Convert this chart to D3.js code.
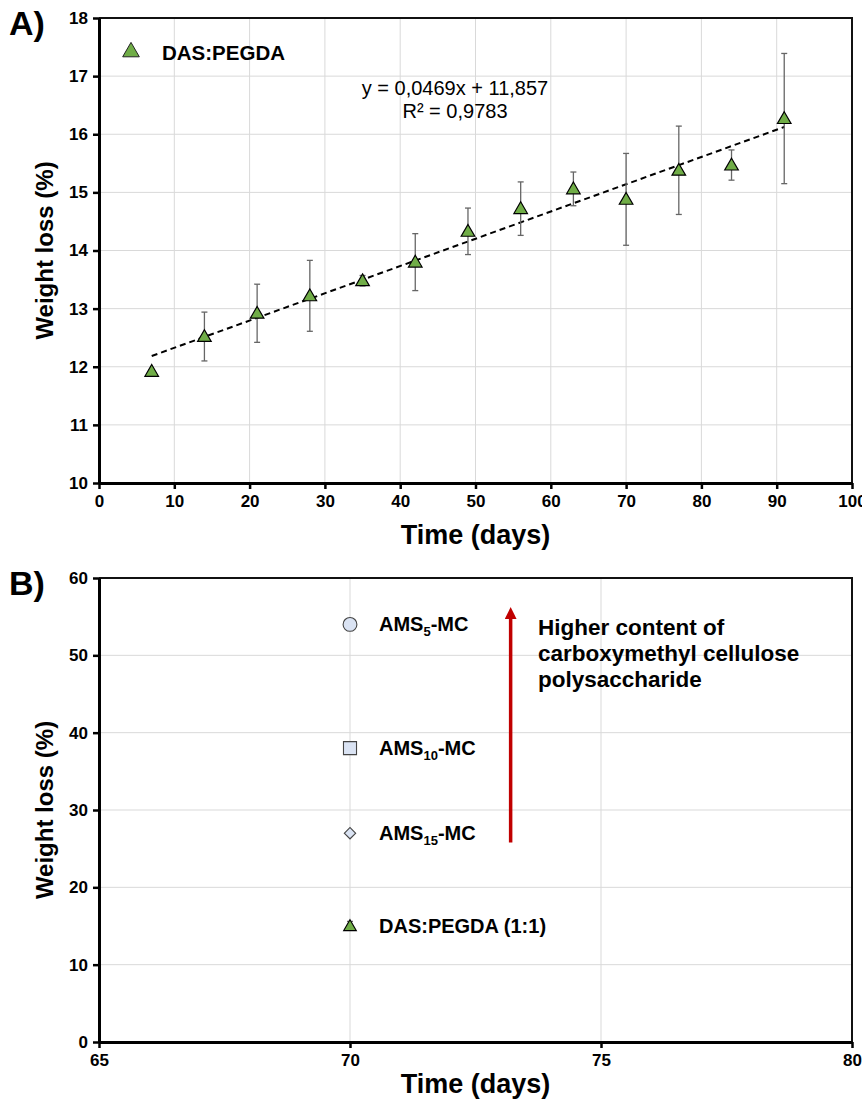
<!DOCTYPE html>
<html>
<head>
<meta charset="utf-8">
<script src="https://cdn.jsdelivr.net/npm/d3@7"></script>
<style>
    body { margin: 0; background: #fff; }
    svg text { font-family: Arial, "Liberation Sans", sans-serif; }
</style>
</head>
<body>
<div id="chartdiv"></div>
<script>
// data, panel A
let days = [7, 14, 21, 28, 35, 42, 49, 56, 63, 70, 77, 84, 91],
    weight_loss = [11.92, 12.52, 12.92, 13.22, 13.48, 13.8, 14.33, 14.72, 15.06, 14.88, 15.38, 15.47, 16.27],
    weight_err = [0.03, 0.42, 0.5, 0.61, 0.09, 0.49, 0.4, 0.46, 0.29, 0.79, 0.76, 0.26, 1.12],
    fit_slope = 0.0469,
    fit_icpt = 11.857,
    a_xticks = [0, 10, 20, 30, 40, 50, 60, 70, 80, 90, 100],
    a_yticks = [10, 11, 12, 13, 14, 15, 16, 17, 18];

// data, panel B
let b_names = ["AMS5-MC", "AMS10-MC", "AMS15-MC", "DAS:PEGDA (1:1)"],
    b_subs = ["5", "10", "15", ""],
    b_shapes = ["circle", "square", "diamond", "triangle"],
    b_day = [70, 70, 70, 70],
    b_values = [54, 38, 27, 15],
    b_err = [0, 0, 0, 0.6],
    b_xticks = [65, 70, 75, 80],
    b_yticks = [0, 10, 20, 30, 40, 50, 60],
    arrow_day = 73.2,
    arrow_from = 25.8,
    arrow_to = 56.5,
    note_lines = ["Higher content of", "carboxymethyl cellulose", "polysaccharide"];

let width = 862,
    height = 1103,
    grid_color = "#d9d9d9",
    green = "#70ad47",
    pale = "#dae3f3";

let svg = d3.select("#chartdiv").append("svg")
    .attr("width", width)
    .attr("height", height);

function symbolOf(name) {
    if (name == "circle") return d3.symbolCircle;
    if (name == "triangle") return d3.symbolTriangle;
    return d3.symbolSquare; // diamond = rotated square
}

// shared frame: grid, axes, labels
function drawFrame(x, y, xticks, yticks, left, right, top, bottom, letter, title_dy) {
    // grid
    svg.append("g").selectAll("line.vg")
        .data(xticks)
        .enter()
        .append("line")
        .attr("x1", d => x(d)).attr("x2", d => x(d))
        .attr("y1", top).attr("y2", bottom)
        .attr("stroke", grid_color).attr("stroke-width", 1);
    svg.append("g").selectAll("line.hg")
        .data(yticks)
        .enter()
        .append("line")
        .attr("x1", left).attr("x2", right)
        .attr("y1", d => y(d)).attr("y2", d => y(d))
        .attr("stroke", grid_color).attr("stroke-width", 1);

    // top and right border
    svg.append("path")
        .attr("d", "M" + left + "," + top + "H" + right + "V" + bottom)
        .attr("fill", "none")
        .attr("stroke", "#111")
        .attr("stroke-width", 2);

    let xAxis = d3.axisBottom(x).tickValues(xticks).tickSize(6).tickPadding(6).tickSizeOuter(0),
        yAxis = d3.axisLeft(y).tickValues(yticks).tickSize(6).tickPadding(5).tickSizeOuter(0);
    let gx = svg.append("g")
        .attr("transform", "translate(0," + bottom + ")")
        .call(xAxis);
    let gy = svg.append("g")
        .attr("transform", "translate(" + left + ",0)")
        .call(yAxis);
    [gx, gy].forEach(function(g) {
        g.select(".domain").style("stroke", "#000").style("stroke-width", "3px");
        g.selectAll(".tick line").style("stroke", "#000").style("stroke-width", "2.5px");
        g.selectAll(".tick text")
            .style("fill", "#000")
            .style("font-size", "17px")
            .style("font-weight", "bold");
    });

    // axis titles
    svg.append("text")
        .attr("x", (left + right) / 2)
        .attr("y", bottom + title_dy)
        .attr("text-anchor", "middle")
        .attr("font-size", 27)
        .attr("font-weight", "bold")
        .text("Time (days)");
    svg.append("text")
        .attr("transform", "translate(53," + (top + bottom) / 2 + ") rotate(-90)")
        .attr("text-anchor", "middle")
        .attr("font-size", 24)
        .attr("font-weight", "bold")
        .text("Weight loss (%)");

    // panel letter
    svg.append("text")
        .attr("x", 9)
        .attr("y", top + 17)
        .attr("font-size", 34)
        .attr("font-weight", "bold")
        .text(letter);
}

// panel A
{
    let left = 99, right = 852, top = 18, bottom = 483;
    let x = d3.scaleLinear().domain([0, 100]).range([left, right]),
        y = d3.scaleLinear().domain([10, 18]).range([bottom, top]);
    drawFrame(x, y, a_xticks, a_yticks, left, right, top, bottom, "A)", 61);

    // trend line
    let d0 = d3.min(days), d1 = d3.max(days);
    svg.append("line")
        .attr("x1", x(d0)).attr("y1", y(fit_slope * d0 + fit_icpt))
        .attr("x2", x(d1)).attr("y2", y(fit_slope * d1 + fit_icpt))
        .attr("stroke", "#000")
        .attr("stroke-width", 2)
        .attr("stroke-dasharray", "6,4");

    // error bars
    let eb = svg.append("g").selectAll("g")
        .data(days)
        .enter()
        .append("g")
        .attr("stroke", "#666")
        .attr("stroke-width", 1.3);
    eb.append("line")
        .attr("x1", d => x(d)).attr("x2", d => x(d))
        .attr("y1", (d, i) => y(weight_loss[i] - weight_err[i]))
        .attr("y2", (d, i) => y(weight_loss[i] + weight_err[i]));
    [-1, 1].forEach(function(s) {
        eb.append("line")
            .attr("x1", d => x(d) - 3).attr("x2", d => x(d) + 3)
            .attr("y1", (d, i) => y(weight_loss[i] + s * weight_err[i]))
            .attr("y2", (d, i) => y(weight_loss[i] + s * weight_err[i]));
    });

    // markers
    svg.append("g").selectAll("path")
        .data(days)
        .enter()
        .append("path")
        .attr("d", d3.symbol().type(d3.symbolTriangle).size(80))
        .attr("transform", (d, i) => "translate(" + x(d) + "," + (y(weight_loss[i]) + 1) + ")")
        .attr("fill", green)
        .attr("stroke", "#000")
        .attr("stroke-width", 1.2);

    // legend
    svg.append("path")
        .attr("d", d3.symbol().type(d3.symbolTriangle).size(120))
        .attr("transform", "translate(131,52)")
        .attr("fill", green)
        .attr("stroke", "#222")
        .attr("stroke-width", 1);
    svg.append("text")
        .attr("x", 162)
        .attr("y", 60)
        .attr("font-size", 20.5)
        .attr("font-weight", "bold")
        .text("DAS:PEGDA");

    // fit equation
    svg.append("text")
        .attr("x", 455)
        .attr("y", 95)
        .attr("text-anchor", "middle")
        .attr("font-size", 20)
        .text("y = 0,0469x + 11,857");
    svg.append("text")
        .attr("x", 455)
        .attr("y", 118)
        .attr("text-anchor", "middle")
        .attr("font-size", 20)
        .text("R² = 0,9783");
}

// panel B
{
    let left = 99, right = 852, top = 578, bottom = 1042;
    let x = d3.scaleLinear().domain([65, 80]).range([left, right]),
        y = d3.scaleLinear().domain([0, 60]).range([bottom, top]);
    drawFrame(x, y, b_xticks, b_yticks, left, right, top, bottom, "B)", 51);

    // error bar for DAS:PEGDA
    b_err.forEach(function(e, i) {
        if (e <= 0) return;
        let g = svg.append("g").attr("stroke", "#666").attr("stroke-width", 1.2);
        g.append("line")
            .attr("x1", x(b_day[i])).attr("x2", x(b_day[i]))
            .attr("y1", y(b_values[i] - e)).attr("y2", y(b_values[i] + e));
        g.append("line")
            .attr("x1", x(b_day[i]) - 3).attr("x2", x(b_day[i]) + 3)
            .attr("y1", y(b_values[i] + e)).attr("y2", y(b_values[i] + e));
    });

    // markers
    let sizes = {circle: 150, square: 170, diamond: 64, triangle: 70};
    svg.append("g").selectAll("path")
        .data(b_values)
        .enter()
        .append("path")
        .attr("d", (d, i) => d3.symbol().type(symbolOf(b_shapes[i])).size(sizes[b_shapes[i]])())
        .attr("transform", (d, i) => "translate(" + x(b_day[i]) + "," + (y(d) + (b_shapes[i] == "triangle" ? 1 : 0)) + ")" +
            (b_shapes[i] == "diamond" ? " rotate(45)" : ""))
        .attr("fill", (d, i) => b_shapes[i] == "triangle" ? green : pale)
        .attr("stroke", (d, i) => b_shapes[i] == "triangle" ? "#000" : "#444")
        .attr("stroke-width", 1.1);

    // labels with subscripts
    b_names.forEach(function(name, i) {
        let t = svg.append("text")
            .attr("x", 379)
            .attr("y", y(b_values[i]) + 7)
            .attr("font-size", 20)
            .attr("font-weight", "bold");
        if (b_subs[i] == "") {
            t.text(name);
            return;
        }
        t.append("tspan").text("AMS");
        t.append("tspan").attr("font-size", 13).attr("dy", 5).text(b_subs[i]);
        t.append("tspan").attr("dy", -5).text("-MC");
    });

    // arrow
    svg.append("defs").append("marker")
        .attr("id", "arrowhead")
        .attr("viewBox", "0 0 10 10")
        .attr("refX", 5).attr("refY", 5)
        .attr("markerWidth", 3.4).attr("markerHeight", 3.4)
        .attr("orient", "auto")
        .append("path")
        .attr("d", "M0,0L10,5L0,10Z")
        .attr("fill", "#c00000");
    svg.append("line")
        .attr("x1", x(arrow_day)).attr("x2", x(arrow_day))
        .attr("y1", y(arrow_from)).attr("y2", y(arrow_to) + 8)
        .attr("stroke", "#c00000")
        .attr("stroke-width", 3.5)
        .attr("marker-end", "url(#arrowhead)");

    // note
    svg.append("text")
        .attr("x", 538)
        .attr("y", 635)
        .attr("font-size", 22.5)
        .attr("font-weight", "bold")
        .selectAll("tspan")
        .data(note_lines)
        .enter()
        .append("tspan")
        .attr("x", 538)
        .attr("dy", (d, i) => i == 0 ? 0 : 26)
        .text(d => d);
}
</script>
</body>
</html>
